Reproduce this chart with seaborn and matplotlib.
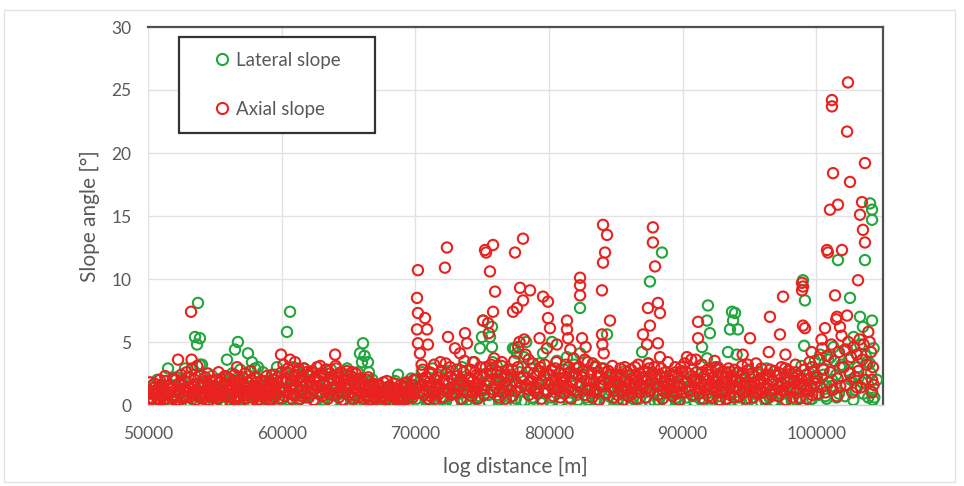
import matplotlib
matplotlib.use("Agg")
import matplotlib.pyplot as plt
import seaborn as sns
import pandas as pd
from matplotlib.lines import Line2D
from matplotlib.patches import Rectangle

# ---------------- data ----------------
# Lateral slope: spikes and scattered points
lateral_x = [
    50100, 50300, 50500, 50700, 50900,
    51100, 51300, 51500, 51700, 51900,
    52100, 52300, 52500, 52770, 52900,
    53100, 53300, 53520, 53670, 53740, 53890, 53870, 53500,
    54040, 54200, 54400, 54600, 54800, 54950,
    55100, 55300, 55500, 55700, 55910, 55800,
    56100, 56300, 56510, 56730, 56600, 56900, 56850,
    57100, 57300, 57480, 57780, 57600, 57900,
    58010, 58230, 58400, 58600, 58800, 58950,
    59100, 59300, 59500, 59650, 59800,
    60100, 60400, 60630, 60300, 60850, 60700,
    61100, 61300, 61500, 61700, 61900,
    62100, 62300, 62500, 62700, 62900,
    63100, 63300, 63500, 63700, 63900,
    64100, 64300, 64500, 64700, 64900,
    65100, 65300, 65500, 65700, 65860, 65900,
    66090, 66010, 66200, 66460, 66300, 66600, 66800,
    67100, 67300, 67500, 67700, 67900,
    68100, 68300, 68500, 68710, 68900,
    69100, 69300, 69500, 69700, 69900,
    70100, 70300, 70500, 70700, 70900,
    71100, 71300, 71500, 71700, 71900,
    72100, 72300, 72500, 72700, 72900,
    73100, 73300, 73500, 73700, 73900,
    74100, 74300, 74500, 74700, 74840, 74990,
    75070, 75590, 75740, 75740, 75300, 75500, 75900,
    76100, 76300, 76500, 76700, 76900,
    77100, 77310, 77460, 77610, 77300, 77800, 77950,
    78150, 78300, 78450, 78650, 78850,
    79100, 79300, 79560, 79700, 79900,
    80100, 80230, 80400, 80600, 80800, 80950,
    81150, 81350, 81500, 81700, 81900,
    82100, 82330, 82330, 82500, 82700, 82900,
    83100, 83300, 83500, 83700, 83900,
    84100, 84350, 84500, 84700, 84900,
    85100, 85300, 85500, 85700, 85900,
    86100, 86300, 86500, 86700, 86970,
    87100, 87410, 87560, 87790, 87300, 87600, 87900,
    88460, 88100, 88300, 88600, 88800, 88950,
    89100, 89300, 89500, 89700, 89900,
    90100, 90300, 90500, 90700, 90900,
    91100, 91460, 91830, 91900, 91830, 91300, 91600, 91950,
    92050, 92200, 92400, 92650, 92800, 92950,
    93100, 93400, 93550, 93700, 93780, 93300, 93600, 93900,
    93930, 94150, 94050, 94250, 94450, 94650, 94850,
    95100, 95300, 95500, 95700, 95900,
    96100, 96300, 96500, 96700, 96900,
    97100, 97300, 97500, 97700, 97900,
    98100, 98300, 98500, 98700, 98900,
    99010, 99160, 99100, 99300, 99500, 99700, 99900,
    100100, 100300, 100500, 100700, 100900, 100800,
    101180, 101100, 101300, 101500, 101630, 101700, 101900,
    102160, 102300, 102530, 102450, 102600, 102800, 102950,
    103280, 103500, 103650, 103100, 103300, 103450, 103700, 103900,
    104030, 104180, 104180, 104180, 104100, 104300, 104250, 104000,
]
lateral_y = [
    0.3, 1.5, 0.8, 2.0, 0.2,
    1.1, 0.4, 2.9, 1.6, 0.6,
    2.2, 0.9, 1.7, 2.9, 0.3,
    1.3, 0.5, 5.4, 4.8, 8.1, 5.3, 3.2, 2.4,
    3.2, 0.6, 1.9, 1.0, 2.3, 0.2,
    1.4, 0.5, 2.1, 0.9, 3.6, 1.8,
    0.4, 2.5, 4.4, 5.0, 1.3, 2.8, 0.3,
    1.7, 0.6, 4.1, 3.4, 2.3, 1.1,
    2.9, 3.0, 0.4, 2.6, 1.5, 0.2,
    1.9, 0.7, 2.4, 3.0, 1.2,
    0.5, 5.8, 7.4, 2.1, 3.0, 1.3,
    2.6, 0.4, 1.8, 2.9, 0.8,
    1.5, 2.7, 0.3, 2.0, 1.1,
    2.4, 0.6, 1.7, 2.8, 0.9,
    1.3, 2.5, 0.4, 1.9, 2.9,
    0.7, 2.2, 1.4, 2.6, 4.1, 0.3,
    4.9, 3.4, 3.9, 3.4, 1.5, 0.5, 2.0,
    0.9, 1.6, 0.2, 1.2, 0.6,
    1.4, 0.4, 1.9, 2.4, 0.8,
    0.3, 1.5, 0.7, 2.1, 1.0,
    0.5, 1.8, 2.6, 0.9, 2.2,
    0.4, 2.9, 1.3, 2.4, 0.6,
    1.9, 0.3, 2.7, 1.4, 0.2,
    2.3, 0.9, 3.0, 1.6, 0.4,
    1.2, 3.4, 0.5, 2.1, 4.5, 5.4,
    6.7, 5.4, 6.2, 4.6, 2.5, 0.8, 1.6,
    3.1, 0.4, 2.2, 1.0, 2.8,
    0.6, 4.5, 4.5, 4.1, 1.9, 2.6, 0.3,
    3.8, 5.0, 1.2, 2.9, 0.5,
    1.7, 3.3, 4.1, 0.9, 2.5,
    0.3, 5.0, 2.1, 3.5, 1.1, 0.2,
    2.8, 3.8, 0.6, 1.9, 3.2,
    0.8, 7.7, 4.1, 2.4, 1.3, 0.4,
    2.6, 1.0, 3.1, 0.3, 1.8,
    2.9, 5.6, 0.7, 2.2, 1.4,
    0.4, 2.0, 1.1, 2.7, 0.2,
    1.6, 0.5, 2.4, 1.0, 4.2,
    2.1, 3.3, 9.8, 2.5, 0.6, 1.4, 0.3,
    12.1, 2.0, 0.8, 1.5, 2.6, 0.2,
    1.2, 2.4, 0.4, 1.8, 0.9,
    2.2, 0.6, 1.4, 2.8, 0.3,
    1.7, 4.6, 6.7, 7.9, 3.7, 0.5, 2.3, 1.0,
    5.7, 0.2, 1.9, 3.0, 0.7, 2.2,
    1.3, 4.2, 6.0, 7.4, 6.7, 0.4, 2.6, 1.5,
    7.3, 6.0, 4.0, 0.3, 2.0, 1.1, 2.7,
    0.5, 1.8, 0.9, 2.4, 0.2,
    1.4, 2.9, 0.6, 1.9, 0.3,
    2.3, 0.8, 1.6, 0.2, 2.7,
    1.0, 2.2, 0.4, 1.7, 3.1,
    9.9, 8.3, 4.7, 1.3, 2.5, 0.5, 3.5,
    1.9, 4.0, 2.9, 0.7, 3.6, 1.5,
    1.5, 3.8, 4.6, 2.4, 11.5, 0.9, 3.2,
    0.7, 4.4, 8.5, 3.6, 2.0, 5.4, 1.2,
    7.0, 6.2, 11.5, 3.0, 4.8, 1.8, 3.9, 0.6,
    16.0, 15.5, 14.7, 6.7, 2.5, 4.5, 0.4, 3.3,
]

# Lateral slope: extra points of the dense low band
lateral_band_x = [
    50180, 50530, 50780, 51180, 51530, 51780, 52180, 52530, 52780,
    53180, 53530, 53780, 54180, 54530, 54780, 55180, 55530, 55780,
    56180, 56530, 56780, 57180, 57530, 57780, 58180, 58530, 58780,
    59180, 59530, 59780, 60180, 60530, 60780, 61180, 61530, 61780,
    62180, 62530, 62780, 63180, 63530, 63780, 64180, 64530, 64780,
    65180, 65530, 65780, 66180, 66530, 66780, 67180, 67530, 67780,
    68180, 68530, 68780, 69180, 69530, 69780, 70180, 70530, 70780,
    71180, 71530, 71780, 72180, 72530, 72780, 73180, 73530, 73780,
    74180, 74530, 74780, 75180, 75530, 75780, 76180, 76530, 76780,
    77180, 77530, 77780, 78180, 78530, 78780, 79180, 79530, 79780,
    80180, 80530, 80780, 81180, 81530, 81780, 82180, 82530, 82780,
    83180, 83530, 83780, 84180, 84530, 84780, 85180, 85530, 85780,
    86180, 86530, 86780, 87180, 87530, 87780, 88180, 88530, 88780,
    89180, 89530, 89780, 90180, 90530, 90780, 91180, 91530, 91780,
    92180, 92530, 92780, 93180, 93530, 93780, 94180, 94530, 94780,
    95180, 95530, 95780, 96180, 96530, 96780, 97180, 97530, 97780,
    98180, 98530, 98780, 99180, 99530, 99780, 100180, 100530, 100780,
    101180, 101530, 101780, 102180, 102530, 102780, 103180, 103530, 103780,
    104100, 104350, 104550,
]
lateral_band_y = [
    0.2, 1.0, 0.5, 0.8, 0.2, 1.3, 0.4, 1.9, 0.6,
    0.2, 1.1, 0.7, 1.4, 0.3, 0.9, 0.6, 1.2, 0.2,
    1.6, 0.5, 2.2, 0.3, 1.0, 0.6, 1.2, 0.2, 0.8,
    0.5, 1.6, 0.3, 1.0, 0.4, 2.4, 0.3, 1.2, 0.6,
    0.9, 0.2, 1.5, 0.4, 1.1, 0.3, 0.8, 0.2, 1.3,
    0.5, 1.7, 0.2, 0.3, 2.6, 0.8, 1.2, 0.4, 0.7,
    0.2, 1.0, 0.5, 1.3, 0.3, 0.8, 0.2, 1.1, 0.4,
    1.5, 0.3, 0.9, 0.5, 1.3, 0.2, 1.8, 0.4, 1.0,
    0.3, 1.6, 0.7, 1.2, 0.2, 3.4, 0.8, 1.5, 0.2,
    2.2, 0.5, 1.1, 0.3, 1.8, 0.6, 1.1, 0.2, 2.0,
    0.6, 1.4, 0.3, 1.0, 0.2, 2.3, 0.4, 1.1, 0.6,
    1.4, 0.3, 0.9, 0.2, 1.2, 0.5, 1.3, 0.3, 0.8,
    0.2, 1.7, 0.5, 1.0, 0.3, 1.6, 0.4, 1.1, 0.2,
    1.5, 0.6, 0.3, 0.2, 1.3, 0.7, 1.2, 0.3, 0.9,
    0.5, 1.4, 0.2, 1.0, 0.3, 1.8, 0.6, 1.5, 0.3,
    1.1, 0.2, 1.7, 0.4, 1.0, 0.3, 1.4, 0.2, 0.9,
    0.3, 1.2, 0.6, 1.6, 0.4, 2.0, 0.8, 2.4, 0.5,
    2.0, 0.6, 3.0, 1.5, 2.6, 0.4, 2.2, 0.9, 3.4,
    1.1, 0.6, 2.0,
]

# Axial slope: spikes and scattered points
axial_x = [
    50040, 50150, 50230, 50330, 50420, 50510, 50600, 50700, 50790, 50880, 50960,
    51050, 51140, 51230, 51320, 51410, 51500, 51590, 51680, 51770, 51860, 51950,
    52040, 52130, 52250, 52300, 52390, 52480, 52570, 52660, 52750, 52840, 52930,
    53020, 53110, 53220, 53260, 53300, 53390, 53480, 53570, 53660, 53750, 53840, 53930,
    54020, 54110, 54200, 54290, 54380, 54470, 54560, 54650, 54740, 54830, 54920,
    55010, 55100, 55190, 55280, 55370, 55460, 55550, 55640, 55760, 55820, 55910,
    56000, 56090, 56180, 56270, 56360, 56450, 56540, 56660, 56720, 56810, 56900,
    57000, 57090, 57180, 57270, 57360, 57450, 57540, 57630, 57720, 57810, 57900,
    58000, 58090, 58180, 58270, 58360, 58450, 58540, 58630, 58720, 58810, 58900,
    59000, 59090, 59180, 59270, 59360, 59450, 59540, 59630, 59720, 59810, 59950, 59990,
    60050, 60140, 60230, 60320, 60410, 60500, 60630, 60680, 60770, 60860, 60950,
    61000, 61040, 61130, 61220, 61310, 61400, 61490, 61580, 61670, 61760, 61850, 61940,
    62030, 62120, 62210, 62300, 62390, 62480, 62570, 62650, 62740, 62830, 62920,
    63010, 63100, 63190, 63280, 63400, 63460, 63550, 63640, 63730, 63820, 63910,
    64000, 64040, 64090, 64180, 64270, 64360, 64450, 64540, 64630, 64720, 64810, 64900,
    65000, 65090, 65180, 65270, 65360, 65450, 65540, 65630, 65720, 65810, 65900,
    66000, 66090, 66180, 66270, 66360, 66450, 66540, 66630, 66720, 66810, 66900,
    67000, 67090, 67180, 67270, 67360, 67450, 67540, 67630, 67720, 67810, 67900,
    68000, 68090, 68180, 68270, 68360, 68450, 68540, 68630, 68720, 68810, 68900,
    69000, 69090, 69180, 69270, 69360, 69450, 69540, 69630, 69720, 69810, 69900,
    70130, 70200, 70200, 70730, 70130, 70880, 70200, 70950, 70350,
    70050, 70450, 70550, 70650, 70780, 70850, 70950,
    71050, 71140, 71230, 71320, 71410, 71500, 71590, 71680, 71770, 71860, 71950,
    72220, 72370, 72450, 72970, 72050, 72140, 72300, 72500, 72600, 72700, 72800, 72900,
    73720, 73870, 73350, 73050, 73150, 73250, 73400, 73500, 73600, 73800, 73950,
    74050, 74140, 74230, 74320, 74410, 74500, 74590, 74680, 74770, 74860, 74950,
    75220, 75300, 75820, 75590, 75970, 75820, 75070, 75450, 75500,
    75050, 75150, 75250, 75700, 75800, 75900, 75650,
    76050, 76150, 76250, 76350, 76450, 76550, 76650, 76750, 76850, 76950,
    77460, 77310, 77610, 77840, 77050, 77150, 77250, 77400, 77550, 77700, 77900, 77800,
    78060, 78590, 78060, 78150, 78300, 78400, 78500, 78700, 78800, 78900, 78250,
    79560, 79930, 79930, 79050, 79150, 79250, 79350, 79450, 79650, 79750, 79850, 79300,
    80080, 80050, 80200, 80350, 80450, 80550, 80650, 80750, 80850, 80950, 80600,
    81350, 81350, 81430, 81050, 81150, 81250, 81450, 81550, 81650, 81750, 81850, 81950, 81600,
    82330, 82330, 82330, 82480, 82050, 82150, 82250, 82400, 82600, 82700, 82800, 82900, 82750,
    83050, 83150, 83250, 83350, 83450, 83550, 83650, 83750, 83850, 83950, 83970,
    84050, 84350, 84200, 84050, 84570, 83970, 84000, 84100, 84150, 84300, 84450, 84650, 84750, 84850, 84950,
    85050, 85150, 85250, 85350, 85450, 85550, 85650, 85750, 85850, 85950,
    86050, 86150, 86250, 86350, 86450, 86550, 86650, 86750, 86850, 86950,
    87780, 87780, 87940, 88160, 87410, 88310, 87560, 87040, 87340, 88160, 88310,
    87050, 87150, 87250, 87350, 87450, 87550, 87650, 87950,
    88050, 88150, 88250, 88400, 88500, 88600, 88700, 88800, 88900,
    89050, 89150, 89250, 89350, 89450, 89550, 89650, 89750, 89850, 89950,
    90050, 90150, 90250, 90330, 90450, 90550, 90650, 90750, 90850, 90950,
    91160, 91160, 91050, 91250, 91350, 91450, 91550, 91650, 91750, 91850, 91950, 91000,
    92050, 92150, 92250, 92350, 92450, 92550, 92650, 92750, 92850, 92950, 92400,
    93050, 93150, 93250, 93350, 93450, 93550, 93650, 93750, 93850, 93950,
    94050, 94150, 94250, 94350, 94450, 94550, 94650, 94750, 94850, 94950, 94500,
    95050, 95100, 95200, 95300, 95400, 95500, 95600, 95700, 95800, 95900,
    96540, 96050, 96150, 96250, 96350, 96450, 96550, 96650, 96750, 96950,
    97520, 97290, 97050, 97150, 97250, 97400, 97500, 97650, 97750, 97850, 97950, 97700,
    98940, 98940, 99010, 98050, 98150, 98250, 98350, 98450, 98550, 98650, 98750, 98850,
    99010, 99160, 99100, 99200, 99300, 99400, 99500, 99600, 99700, 99800, 99900, 99650,
    100660, 100810, 100880, 100050, 100150, 100250, 100350, 100450, 100550, 100700, 100800, 100950, 100400,
    101180, 101180, 101260, 101030, 101630, 101930, 101410, 101560, 101780,
    101050, 101150, 101250, 101350, 101500, 101600, 101700, 101800, 101900, 101550,
    102380, 102310, 102530, 102310, 102050, 102150, 102250, 102400, 102500, 102600, 102700, 102800, 102900,
    103650, 103430, 103280, 103500, 103650, 103130, 103050, 103150, 103250, 103350, 103450, 103550, 103700, 103800, 103900, 103050,
    104180, 104180, 104100, 104250, 104000, 104300,
]
axial_y = [
    1.2, 1.8, 0.6, 0.9, 0.3, 1.4, 0.8, 0.5, 1.1, 0.4, 1.6,
    0.7, 1.3, 0.5, 1.9, 0.9, 0.3, 1.5, 1.0, 0.6, 2.1, 0.8,
    1.2, 0.4, 3.6, 1.7, 0.9, 2.4, 0.5, 1.3, 1.9, 0.7, 1.1,
    2.2, 0.6, 7.4, 3.6, 1.5, 0.9, 2.0, 0.4, 1.2, 1.7, 0.8, 2.3,
    1.0, 0.5, 1.6, 2.2, 0.8, 1.3, 0.4, 1.9, 1.1, 0.6, 1.5,
    0.9, 2.0, 0.5, 1.4, 0.8, 1.8, 0.3, 1.2, 2.3, 0.7, 1.6,
    1.1, 2.1, 0.6, 1.5, 0.9, 1.9, 0.4, 3.0, 1.3, 0.7, 1.7,
    1.0, 2.2, 0.5, 1.4, 0.8, 1.8, 0.3, 1.2, 2.0, 0.6, 1.5,
    0.9, 1.8, 0.4, 1.3, 0.7, 1.6, 0.3, 1.1, 1.9, 0.5, 1.4,
    0.8, 1.7, 0.4, 1.2, 2.0, 0.6, 1.5, 0.9, 2.2, 0.5, 4.0, 2.6,
    1.3, 3.2, 0.7, 1.8, 2.6, 1.0, 3.6, 1.9, 0.5, 1.4, 2.4,
    3.4, 0.8, 1.9, 2.7, 1.1, 0.5, 2.2, 1.5, 2.9, 0.9, 1.7, 2.4,
    0.6, 1.8, 2.6, 1.2, 0.4, 2.1, 1.5, 3.0, 0.9, 1.9, 2.5,
    0.7, 1.6, 2.3, 1.1, 2.8, 0.5, 1.9, 2.5, 1.3, 0.8, 2.0,
    4.0, 3.1, 1.4, 2.2, 0.6, 1.8, 2.6, 1.0, 0.4, 2.0, 1.5, 2.4,
    0.8, 1.7, 2.3, 1.0, 0.5, 1.9, 2.5, 1.2, 0.6, 1.6, 2.1,
    1.0, 1.8, 0.5, 1.3, 2.0, 0.8, 1.5, 0.4, 1.1, 1.7, 0.6,
    1.2, 0.5, 1.6, 0.9, 0.3, 1.3, 0.7, 1.8, 1.0, 0.4, 1.4,
    0.8, 1.5, 0.3, 1.1, 0.6, 1.7, 0.9, 0.4, 1.3, 0.7, 1.6,
    1.0, 0.4, 1.4, 0.8, 1.8, 0.5, 1.2, 0.9, 1.6, 0.6, 2.0,
    8.5, 10.7, 7.3, 6.9, 6.0, 6.0, 4.9, 4.8, 4.1,
    1.3, 1.6, 2.8, 0.8, 2.2, 1.1, 0.5,
    1.8, 0.7, 2.5, 1.2, 3.2, 0.5, 1.6, 2.2, 0.9, 1.4, 2.7,
    10.9, 12.5, 5.4, 4.5, 0.6, 1.9, 2.5, 1.1, 3.0, 0.8, 2.0, 1.4,
    5.7, 4.9, 4.1, 0.9, 2.3, 1.3, 0.5, 1.8, 2.6, 1.0, 2.1,
    1.5, 2.8, 0.7, 1.9, 3.4, 1.1, 2.4, 0.5, 1.7, 3.0, 1.2,
    12.3, 12.1, 12.7, 10.6, 9.0, 7.4, 6.7, 6.5, 5.7,
    2.2, 0.8, 1.6, 2.5, 1.0, 3.7, 3.2,
    1.4, 2.6, 0.6, 1.9, 3.1, 1.0, 2.2, 0.5, 1.5, 2.8,
    12.1, 7.4, 7.7, 9.3, 1.2, 2.4, 0.7, 3.5, 1.8, 4.6, 2.1, 5.0,
    13.2, 9.1, 8.3, 5.2, 1.3, 2.6, 0.8, 1.9, 3.3, 1.1, 4.0,
    8.6, 8.2, 6.9, 2.3, 0.9, 1.7, 3.0, 0.5, 2.4, 1.2, 4.5, 5.3,
    6.1, 1.6, 2.8, 0.7, 1.9, 3.4, 1.2, 2.5, 0.6, 1.8, 4.8,
    6.7, 6.0, 5.3, 2.1, 0.9, 3.2, 1.4, 2.6, 0.5, 1.8, 3.7, 1.1, 4.4,
    10.1, 9.5, 8.7, 5.3, 2.4, 1.0, 3.0, 1.7, 2.7, 0.8, 1.9, 3.4, 4.6,
    1.3, 2.5, 0.6, 1.8, 3.0, 1.0, 2.2, 0.4, 1.6, 2.9, 9.1,
    14.3, 13.5, 12.1, 11.3, 6.7, 5.6, 4.8, 4.1, 2.0, 0.9, 2.7, 1.4, 3.1, 0.6, 1.9,
    2.3, 0.8, 1.6, 2.9, 1.1, 0.4, 2.0, 1.3, 2.6, 0.7,
    1.7, 2.8, 0.9, 1.5, 3.0, 0.5, 1.9, 2.5, 1.0, 2.2,
    14.1, 12.9, 11.0, 8.1, 7.7, 7.3, 6.3, 5.6, 4.8, 4.9, 3.8,
    1.4, 2.7, 0.6, 1.9, 3.3, 1.1, 2.4, 1.7,
    2.1, 0.8, 1.5, 2.9, 0.5, 1.8, 2.6, 1.0, 3.4,
    1.3, 2.4, 0.7, 1.7, 3.0, 0.9, 2.2, 0.4, 1.5, 2.7,
    1.0, 3.3, 1.8, 3.8, 2.5, 1.2, 3.6, 0.8, 2.0, 1.4,
    6.6, 5.3, 2.6, 0.9, 1.8, 3.2, 0.5, 2.1, 1.2, 2.8, 0.7, 3.6,
    1.6, 2.7, 0.6, 1.9, 3.0, 1.1, 2.3, 0.4, 1.5, 2.6, 3.5,
    1.0, 2.1, 0.5, 1.7, 2.9, 0.8, 2.3, 1.3, 0.6, 2.0,
    1.4, 2.6, 0.7, 1.8, 3.1, 1.0, 2.2, 0.5, 1.6, 2.8, 4.0,
    5.3, 1.2, 2.5, 0.6, 1.7, 3.3, 0.9, 2.0, 1.3, 2.9,
    7.0, 1.0, 2.3, 0.5, 1.6, 4.2, 2.8, 0.8, 1.9, 1.2,
    8.6, 5.6, 2.4, 0.7, 1.5, 3.0, 1.1, 2.2, 0.4, 1.8, 2.7, 4.0,
    9.7, 9.1, 9.4, 1.3, 2.5, 0.6, 1.9, 3.2, 1.0, 2.3, 0.5, 1.6,
    6.3, 6.1, 2.8, 1.2, 0.5, 2.0, 3.4, 1.4, 0.8, 2.6, 1.7, 4.2,
    6.1, 12.3, 12.1, 2.2, 0.9, 3.6, 1.4, 4.5, 2.8, 1.0, 3.9, 1.8, 5.2,
    24.2, 23.7, 18.4, 15.5, 15.9, 12.3, 8.7, 7.0, 6.2,
    2.6, 4.8, 1.2, 3.5, 6.8, 2.1, 4.2, 1.5, 5.5, 0.7,
    25.6, 21.7, 17.7, 7.1, 3.0, 4.4, 1.6, 5.0, 2.5, 3.8, 1.0, 4.6, 2.2,
    19.2, 16.1, 15.1, 13.9, 12.9, 9.9, 4.0, 2.7, 5.2, 1.4, 3.6, 4.8, 2.0, 3.2, 5.8, 1.4,
    1.0, 2.0, 4.2, 3.0, 5.0, 1.6,
]

# Axial slope: extra points of the dense low band
axial_band_x = [
    50080, 50280, 50480, 50680, 50880, 51080, 51280, 51480, 51680, 51880,
    52080, 52280, 52480, 52680, 52880, 53080, 53280, 53480, 53680, 53880,
    54080, 54280, 54480, 54680, 54880, 55080, 55280, 55480, 55680, 55880,
    56080, 56280, 56480, 56680, 56880, 57080, 57280, 57480, 57680, 57880,
    58080, 58280, 58480, 58680, 58880, 59080, 59280, 59480, 59680, 59880,
    60080, 60280, 60480, 60680, 60880, 61080, 61280, 61480, 61680, 61880,
    62080, 62280, 62480, 62680, 62880, 63080, 63280, 63480, 63680, 63880,
    64080, 64280, 64480, 64680, 64880, 65080, 65280, 65480, 65680, 65880,
    66080, 66280, 66480, 66680, 66880, 67080, 67280, 67480, 67680, 67880,
    68080, 68280, 68480, 68680, 68880, 69080, 69280, 69480, 69680, 69880,
    70080, 70280, 70480, 70680, 70880, 71080, 71280, 71480, 71680, 71880,
    72080, 72280, 72480, 72680, 72880, 73080, 73280, 73480, 73680, 73880,
    74080, 74280, 74480, 74680, 74880, 75080, 75280, 75480, 75680, 75880,
    76080, 76280, 76480, 76680, 76880, 77080, 77280, 77480, 77680, 77880,
    78080, 78280, 78480, 78680, 78880, 79080, 79280, 79480, 79680, 79880,
    80080, 80280, 80480, 80680, 80880, 81080, 81280, 81480, 81680, 81880,
    82080, 82280, 82480, 82680, 82880, 83080, 83280, 83480, 83680, 83880,
    84080, 84280, 84480, 84680, 84880, 85080, 85280, 85480, 85680, 85880,
    86080, 86280, 86480, 86680, 86880, 87080, 87280, 87480, 87680, 87880,
    88080, 88280, 88480, 88680, 88880, 89080, 89280, 89480, 89680, 89880,
    90080, 90280, 90480, 90680, 90880, 91080, 91280, 91480, 91680, 91880,
    92080, 92280, 92480, 92680, 92880, 93080, 93280, 93480, 93680, 93880,
    94080, 94280, 94480, 94680, 94880, 95080, 95280, 95480, 95680, 95880,
    96080, 96280, 96480, 96680, 96880, 97080, 97280, 97480, 97680, 97880,
    98080, 98280, 98480, 98680, 98880, 99080, 99280, 99480, 99680, 99880,
]
axial_band_y = [
    1.0, 0.5, 1.7, 1.2, 2.0, 1.5, 2.3, 0.8, 1.3, 0.5,
    2.0, 1.1, 1.6, 0.6, 2.6, 1.0, 2.9, 1.4, 3.1, 0.6,
    1.8, 0.9, 2.5, 1.4, 0.7, 1.2, 2.6, 0.9, 1.7, 2.2,
    0.8, 1.4, 2.4, 0.6, 2.0, 1.6, 2.5, 1.0, 2.7, 0.8,
    2.2, 1.0, 1.9, 0.7, 2.3, 1.3, 2.4, 0.9, 1.8, 1.1,
    2.0, 1.2, 2.9, 1.6, 0.8, 1.4, 2.9, 0.7, 1.9, 2.6,
    2.3, 0.9, 2.0, 1.4, 3.1, 1.7, 2.8, 0.9, 2.2, 1.3,
    2.9, 1.1, 2.0, 1.5, 2.7, 1.3, 2.6, 0.8, 2.0, 1.6,
    1.4, 0.7, 2.2, 1.0, 1.5, 0.9, 1.5, 0.6, 1.1, 1.9,
    1.2, 0.7, 1.3, 1.0, 0.5, 0.6, 1.7, 1.1, 1.3, 0.9,
    2.0, 1.0, 3.2, 1.9, 1.5, 2.6, 1.0, 2.0, 1.5, 3.4,
    1.2, 3.3, 1.7, 2.2, 0.9, 2.8, 1.5, 2.0, 3.5, 1.1,
    2.0, 1.0, 2.6, 1.4, 2.3, 1.3, 3.0, 1.9, 2.8, 1.2,
    2.0, 1.1, 3.4, 1.7, 2.3, 1.6, 2.8, 1.1, 3.0, 1.4,
    2.2, 1.6, 3.6, 1.4, 2.5, 1.4, 2.7, 1.9, 3.2, 1.0,
    2.4, 1.3, 2.9, 1.6, 2.1, 1.5, 2.2, 3.0, 1.2, 2.5,
    2.9, 1.5, 2.2, 3.6, 1.2, 2.0, 3.3, 1.2, 2.6, 1.5,
    1.5, 2.6, 1.8, 2.4, 1.1, 1.8, 2.4, 1.5, 3.0, 1.2,
    2.4, 1.3, 2.0, 3.2, 1.6, 2.2, 1.3, 2.9, 2.0, 3.0,
    1.5, 2.4, 1.2, 2.2, 1.6, 2.0, 1.1, 2.6, 1.5, 3.0,
    1.7, 2.6, 1.1, 2.3, 1.8, 2.0, 1.4, 2.6, 1.6, 2.4,
    1.3, 2.2, 1.8, 2.9, 1.0, 1.8, 2.6, 1.4, 2.0, 2.8,
    2.0, 1.2, 2.5, 1.6, 3.2, 1.5, 2.3, 1.1, 2.6, 1.8,
    2.0, 1.4, 2.4, 1.2, 2.7, 1.6, 2.5, 1.2, 2.9, 1.4,
    2.0, 1.2, 2.6, 1.7, 2.1, 1.5, 2.4, 1.1, 3.0, 2.2,
]

series_labels = ["Lateral slope", "Axial slope"]
x_ticks = [50000, 60000, 70000, 80000, 90000, 100000]
y_ticks = [0, 5, 10, 15, 20, 25, 30]

# ---------------- styling ----------------
GREEN = "#22a53c"
RED = "#e8231f"
TXT = "#595959"

sns.set_theme(style="white")
plt.rcParams["font.family"] = ["Lato", "DejaVu Sans"]

fig = plt.figure(figsize=(9.64, 4.86), dpi=100)
ax = fig.add_axes([148 / 964, 81 / 486, 735 / 964, 378 / 486])

df_lat = pd.DataFrame({"x": lateral_x + lateral_band_x,
                       "y": lateral_y + lateral_band_y})
df_ax = pd.DataFrame({"x": axial_x + axial_band_x,
                      "y": axial_y + axial_band_y})

for df, col in [(df_lat, GREEN), (df_ax, RED)]:
    sns.scatterplot(data=df, x="x", y="y", marker="o", s=55, ax=ax,
                    legend=False, zorder=3)
    coll = ax.collections[-1]
    coll.set_facecolor("none")
    coll.set_edgecolor(col)
    coll.set_linewidth(1.5)

ax.set_xlim(50000, 105000)
ax.set_ylim(0, 30)
ax.set_xticks(x_ticks)
ax.set_yticks(y_ticks)
ax.set_xticklabels([str(v) for v in x_ticks])
ax.grid(True, color="#e2e2e2", linewidth=1.0, zorder=0)
ax.set_axisbelow(True)
ax.tick_params(axis="both", length=0, labelsize=12.5, colors=TXT)
ax.tick_params(axis="x", pad=15)
ax.tick_params(axis="y", pad=12)

for side in ["top", "right"]:
    ax.spines[side].set_color("#505050")
    ax.spines[side].set_linewidth(1.6)
ax.spines["left"].set_visible(False)
ax.spines["bottom"].set_color("#d0d0d0")
ax.spines["bottom"].set_linewidth(1.0)

ax.set_xlabel("log distance [m]", fontsize=15, color=TXT)
ax.set_ylabel("Slope angle [°]", fontsize=15, color=TXT)
ax.xaxis.set_label_coords(0.5, -0.165)
ax.xaxis.label.set_va("center")
ax.yaxis.set_label_coords((90 - 148) / 735, 0.5)
ax.yaxis.label.set_va("center")

# legend
handles = [Line2D([], [], linestyle="none", marker="o", markersize=8,
                  markerfacecolor="none", markeredgecolor=c, markeredgewidth=1.5)
           for c in (GREEN, RED)]
leg = ax.legend(handles, series_labels, loc="center left",
                bbox_to_anchor=((213 - 148) / 735, (405 - 85) / 378),
                frameon=False, fontsize=13.5, labelspacing=1.7,
                handlelength=1.0, handletextpad=0.25, borderaxespad=0,
                borderpad=0)
for t in leg.get_texts():
    t.set_color(TXT)
box = Rectangle(((179 - 148) / 735, (405 - 133) / 378), (375 - 179) / 735,
                (133 - 37) / 378, transform=ax.transAxes, fill=True,
                facecolor="white", edgecolor="#333333", linewidth=1.6,
                zorder=4)
ax.add_patch(box)
leg.set_zorder(5)

# faint outer border of the chart area
fig.patches.append(Rectangle((0.004, 0.008), 0.987, 0.972,
                             transform=fig.transFigure, fill=False,
                             edgecolor="#e3e3e3", linewidth=1.0))

fig.savefig("out.png", dpi=100)
